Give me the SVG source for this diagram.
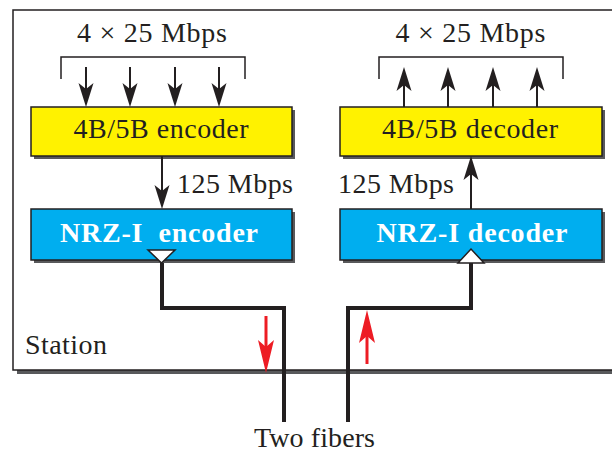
<svg xmlns="http://www.w3.org/2000/svg" width="612" height="452" viewBox="0 0 612 452">
<style>
  text { font-family: 'Liberation Serif', 'Times New Roman', Times, serif; font-size: 28px; }
  .lbl { fill: #231f20; }
  .boxtxt { fill: #231f20; text-anchor: middle; }
  .nrztxt { font-weight: bold; fill: #ffffff; text-anchor: middle; }
  .shadow { fill: #58595b; }
  .ybox { fill: #fff200; stroke: #231f20; stroke-width: 1.5; }
  .cbox { fill: #00aeef; stroke: #231f20; stroke-width: 1.5; }
  .arr { stroke: #231f20; stroke-width: 2; fill: none; marker-end: url(#ah); }
  .brk { stroke: #231f20; stroke-width: 1.5; fill: none; }
  .fiber { stroke: #231f20; stroke-width: 4; fill: none; }
  .red { stroke: #ed1c24; stroke-width: 3; fill: none; marker-end: url(#rh); }
  .tri { fill: #ffffff; stroke: #231f20; stroke-width: 1.5; }
</style>
<defs>
  <marker id="ah" markerUnits="userSpaceOnUse" viewBox="-25 -9 27 18" refX="-12" refY="0" markerWidth="27" markerHeight="18" orient="auto">
    <path d="M0,0 L-24,-7.5 L-18,0 L-24,7.5 Z" fill="#231f20"/>
  </marker>
  <marker id="rh" markerUnits="userSpaceOnUse" viewBox="-34 -9 36 18" refX="-14" refY="0" markerWidth="36" markerHeight="18" orient="auto">
    <path d="M0,0 L-33,-8 L-26,0 L-33,8 Z" fill="#ed1c24"/>
  </marker>
</defs>

<g id="station">
  <rect x="17" y="14" width="620" height="360" class="shadow"/>
  <rect x="13" y="10" width="620" height="360" fill="#ffffff" stroke="#231f20" stroke-width="1.5"/>
  <text x="25" y="354" class="lbl" textLength="82" lengthAdjust="spacing">Station</text>
</g>

<g id="enc-input">
  <text x="152" y="42" class="boxtxt" textLength="150" lengthAdjust="spacing">4 × 25 Mbps</text>
  <path d="M61,79 V57 H245 V79" class="brk"/>
</g>
<g id="dec-output">
  <text x="470.5" y="42" class="boxtxt" textLength="150" lengthAdjust="spacing">4 × 25 Mbps</text>
  <path d="M379,79 V57 H563 V79" class="brk"/>
</g>

<g id="enc4b5b">
  <rect x="34" y="110" width="261" height="49" class="shadow"/>
  <rect x="31" y="107" width="261" height="49" class="ybox"/>
  <text x="161" y="138" class="boxtxt" textLength="175" lengthAdjust="spacing">4B/5B encoder</text>
</g>
<g id="dec4b5b">
  <rect x="343" y="110" width="262" height="49" class="shadow"/>
  <rect x="340" y="107" width="262" height="49" class="ybox"/>
  <text x="470" y="138" class="boxtxt" textLength="176" lengthAdjust="spacing">4B/5B decoder</text>
</g>
<g id="nrzenc">
  <rect x="34" y="212" width="261" height="51" class="shadow"/>
  <rect x="31" y="209" width="261" height="51" class="cbox"/>
  <text x="159" y="242" class="nrztxt" xml:space="preserve" textLength="198" lengthAdjust="spacing">NRZ-I  encoder</text>
  <polygon points="148,250 175,250 161.5,263" class="tri"/>
</g>
<g id="nrzdec">
  <rect x="343" y="212" width="262" height="51" class="shadow"/>
  <rect x="340" y="209" width="262" height="51" class="cbox"/>
  <text x="472" y="242" class="nrztxt" textLength="191" lengthAdjust="spacing">NRZ-I decoder</text>
  <polygon points="458,263 484,263 471,249" class="tri"/>
</g>

<g id="connectors">
  <line x1="86" y1="67" x2="86" y2="95" class="arr"/>
  <line x1="130" y1="67" x2="130" y2="95" class="arr"/>
  <line x1="175" y1="67" x2="175" y2="95" class="arr"/>
  <line x1="219" y1="67" x2="219" y2="95" class="arr"/>
  <line x1="404" y1="107" x2="404" y2="79" class="arr"/>
  <line x1="448" y1="107" x2="448" y2="79" class="arr"/>
  <line x1="493" y1="107" x2="493" y2="79" class="arr"/>
  <line x1="537" y1="107" x2="537" y2="79" class="arr"/>
  <line x1="162" y1="156" x2="162" y2="197" class="arr"/>
  <line x1="471" y1="209" x2="471" y2="168" class="arr"/>
  <text x="177" y="193" class="lbl" textLength="116" lengthAdjust="spacing">125 Mbps</text>
  <text x="338" y="193" class="lbl" textLength="116" lengthAdjust="spacing">125 Mbps</text>
  <path d="M162,263 V308 H284 V422" class="fiber"/>
  <path d="M348,422 V308 H471 V263" class="fiber"/>
  <line x1="266" y1="316" x2="266" y2="359" class="red"/>
  <line x1="367" y1="364" x2="367" y2="324" class="red"/>
  <text x="314.5" y="447" class="boxtxt" textLength="121" lengthAdjust="spacing">Two fibers</text>
</g>
</svg>
